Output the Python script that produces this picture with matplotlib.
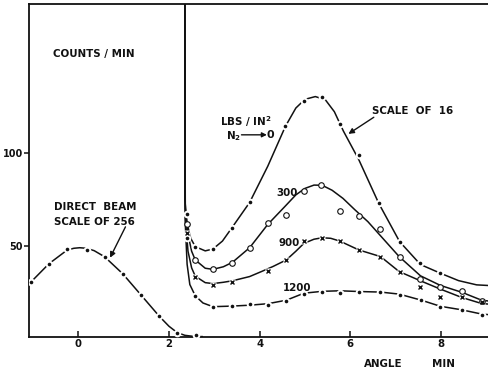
import numpy as np
import matplotlib
matplotlib.use('Agg')
import matplotlib.pyplot as plt

plt.rcParams['font.family'] = ['DejaVu Sans']
plt.rcParams['mathtext.fontset'] = 'dejavusans'
plt.rcParams['font.weight'] = 'bold'
plt.rcParams['mathtext.default'] = 'bf'

# Direct beam (scale of 256): measured points and the drawn curve.
beam_x = [-1.05, -0.65, -0.25, 0.18, 0.58, 0.98, 1.38, 1.79, 2.18, 2.59]
beam_y = [30.1, 40.2, 48.3, 47.4, 43.8, 34.6, 23.4, 11.7, 2.7, 1.5]
beam_line_x = [-1.10, -0.65, -0.25, -0.10, 0.03, 0.18, 0.35, 0.58, 0.98, 1.38,
               1.79, 2.00, 2.18, 2.35, 2.55, 2.75]
beam_line_y = [29.0, 40.2, 47.6, 48.6, 48.9, 48.6, 47.3, 44.0, 34.8, 23.4,
               11.7, 6.4, 3.0, 1.5, 0.9, 0.8]

# N2 pressure 0 lbs/in^2 (scale of 16)
p0_x = [2.39, 2.58, 2.97, 3.38, 3.78, 4.57, 4.97, 5.38, 5.77, 6.19, 6.63, 7.09, 7.55, 7.99]
p0_y = [67.0, 49.1, 48.2, 59.4, 73.4, 114.6, 128.2, 130.3, 116.0, 98.9, 72.9, 52.2, 40.8, 35.4]
p0_line_x = [2.35, 2.35, 2.40, 2.48, 2.58, 2.80, 2.97, 3.18, 3.38, 3.78, 4.18, 4.57,
             4.80, 5.00, 5.23, 5.45, 5.65, 5.85, 6.19, 6.63, 7.09, 7.55, 7.99,
             8.39, 8.79, 9.25]
p0_line_y = [182, 75, 62, 54, 49.5, 47.2, 48.2, 52.5, 59.4, 73.4, 93.0, 114.6,
             124.5, 129.2, 130.7, 129.0, 122.5, 112.0, 96.5, 72.9, 52.2, 39.8, 35.1,
             31.1, 28.8, 28.2]

# 300 lbs/in^2
p300_x = [2.40, 2.58, 2.97, 3.40, 3.78, 4.18, 4.59, 4.97, 5.36, 5.77, 6.19, 6.65,
          7.09, 7.55, 7.99, 8.46, 8.90]
p300_y = [61.5, 42.3, 37.4, 40.8, 48.9, 62.1, 66.6, 79.7, 82.7, 68.9, 66.0, 58.8,
          43.7, 31.9, 27.9, 25.6, 19.8]
p300_line_x = [2.35, 2.36, 2.42, 2.50, 2.58, 2.80, 2.97, 3.20, 3.40, 3.78, 4.18,
               4.55, 4.80, 5.00, 5.20, 5.38, 5.60, 5.84, 6.10, 6.39, 6.70, 7.08,
               7.55, 7.99, 8.46, 8.90, 9.25]
p300_line_y = [182, 70, 56, 47, 42.3, 37.8, 37.2, 38.6, 41.0, 48.9, 61.5,
               71.0, 77.5, 81.0, 82.8, 82.7, 80.0, 75.6, 69.5, 63.0, 54.5, 44.1,
               33.7, 28.5, 24.8, 20.5, 19.5]

# 900 lbs/in^2
p900_x = [2.40, 2.58, 2.97, 3.40, 4.19, 4.59, 4.98, 5.37, 5.77, 6.19, 6.66, 7.09,
          7.55, 7.99, 8.46, 8.90]
p900_y = [57.0, 33.3, 28.8, 30.6, 36.5, 42.3, 52.5, 54.2, 52.5, 47.7, 44.0, 36.0,
          27.9, 22.5, 22.5, 19.3]
p900_line_x = [2.35, 2.36, 2.42, 2.50, 2.58, 2.80, 2.97, 3.20, 3.40, 3.78, 4.04,
               4.30, 4.59, 4.80, 4.98, 5.20, 5.38, 5.57, 5.77, 6.19, 6.67, 7.08,
               7.55, 7.99, 8.46, 8.90, 9.25]
p900_line_y = [182, 65, 47, 38, 33.5, 30.0, 29.5, 30.2, 31.0, 33.3, 36.0,
               38.8, 42.3, 47.0, 51.3, 53.5, 54.3, 54.0, 52.5, 47.7, 44.1, 36.0,
               31.0, 26.5, 22.0, 18.7, 18.0]

# 1200 lbs/in^2
p1200_x = [2.40, 2.58, 2.97, 3.38, 3.78, 4.18, 4.59, 4.98, 5.38, 5.77, 6.19, 6.65,
           7.09, 7.57, 7.99, 8.46, 8.90]
p1200_y = [54.0, 22.9, 16.6, 17.5, 18.6, 17.9, 19.8, 23.8, 25.2, 24.6, 25.2, 25.2,
           23.1, 20.7, 16.9, 15.3, 12.6]
p1200_line_x = [2.35, 2.36, 2.40, 2.46, 2.58, 2.75, 2.97, 3.38, 3.78, 4.18, 4.59,
                4.98, 5.38, 5.77, 6.19, 6.67, 7.08, 7.57, 7.99, 8.46, 8.90, 9.25]
p1200_line_y = [182, 62, 40, 29, 22.9, 19.0, 17.0, 17.3, 17.8, 18.6, 20.5,
                24.3, 25.3, 25.6, 25.2, 24.9, 23.8, 20.5, 17.2, 15.3, 13.0, 12.3]

x_ticks = [0, 2, 4, 6, 8]
y_ticks = [50, 100]

fig = plt.figure(figsize=(4.88, 3.73), dpi=100)
# the original is cropped on the right, so the axes run past the figure edge
ax = fig.add_axes([28.5 / 488, 36.3 / 373, 469 / 488, 332.7 / 373])
ax.set_xlim(-1.10, 9.25)
ax.set_ylim(0.75, 180.8)

lw = 1.1
ink = '#111111'


def dotted_curve(lx, ly, px, py):
    # solid line broken around small filled dots
    ax.plot(lx, ly, color=ink, lw=lw, zorder=2, solid_capstyle='butt')
    ax.plot(px, py, 'o', ms=5.5, mfc='white', mec='none', zorder=3)
    ax.plot(px, py, 'o', ms=2.6, mfc=ink, mec='none', zorder=4)


dotted_curve(beam_line_x, beam_line_y, beam_x, beam_y)
dotted_curve(p0_line_x, p0_line_y, p0_x, p0_y)
dotted_curve(p1200_line_x, p1200_line_y, p1200_x, p1200_y)

# 300: open circles
ax.plot(p300_line_x, p300_line_y, color=ink, lw=lw, zorder=2)
ax.plot(p300_x, p300_y, 'o', ms=4.0, mfc='white', mec=ink, mew=0.8, zorder=4)

# 900: small crosses with gaps
ax.plot(p900_line_x, p900_line_y, color=ink, lw=lw, zorder=2)
ax.plot(p900_x, p900_y, 's', ms=4.5, mfc='white', mec='none', zorder=3)
ax.plot(p900_x, p900_y, 'x', ms=2.6, mec=ink, mew=1.0, zorder=4)

# axes styling
ax.spines['right'].set_visible(False)
for side in ['left', 'bottom', 'top']:
    ax.spines[side].set_linewidth(1.3)
    ax.spines[side].set_color(ink)

ax.set_xticks(x_ticks)
ax.set_xticklabels([str(t) for t in x_ticks])
ax.set_yticks(y_ticks)
ax.set_yticklabels([str(t) for t in y_ticks])
ax.tick_params(axis='x', direction='in', length=4, width=1.1, pad=2,
               labelsize=7.3, colors=ink)
ax.tick_params(axis='y', direction='out', length=3.5, width=1.1, pad=0.5,
               labelsize=7.0, colors=ink)

fs = 7.4
ax.text(-0.57, 153.5, 'COUNTS / MIN', fontsize=fs, color=ink, va='center')
ax.text(3.12, 117, 'LBS / IN$^2$', fontsize=fs, color=ink, va='center')
ax.annotate('', xy=(4.16, 110), xytext=(3.60, 110),
            arrowprops=dict(arrowstyle='-|>', color=ink, lw=1.0,
                            mutation_scale=7, shrinkA=0, shrinkB=0))
ax.text(3.25, 109.5, 'N$_2$', fontsize=fs, color=ink, va='center')
ax.text(4.16, 110, '0', fontsize=fs + 0.5, color=ink, va='center')
ax.text(6.49, 122.8, 'SCALE  OF  16', fontsize=fs, color=ink, va='center')
ax.annotate('', xy=(5.96, 110.5), xytext=(6.52, 119.5),
            arrowprops=dict(arrowstyle='-|>', color=ink, lw=1.0,
                            mutation_scale=8, shrinkA=0, shrinkB=0))
ax.text(4.37, 78.5, '300', fontsize=fs, color=ink, va='center')
ax.text(4.41, 51.5, '900', fontsize=fs, color=ink, va='center')
ax.text(4.52, 27, '1200', fontsize=fs, color=ink, va='center')
ax.text(-0.53, 71, 'DIRECT  BEAM', fontsize=fs, color=ink, va='center')
ax.text(-0.53, 63, 'SCALE OF 256', fontsize=fs, color=ink, va='center')
ax.annotate('', xy=(0.70, 43.5), xytext=(1.04, 60.2),
            arrowprops=dict(arrowstyle='-|>', color=ink, lw=1.0,
                            mutation_scale=8, shrinkA=0, shrinkB=0))
ax.text(6.30, -13.8, 'ANGLE', fontsize=fs, color=ink, va='center', clip_on=False)
ax.text(7.80, -13.8, 'MIN', fontsize=fs, color=ink, va='center', clip_on=False)

fig.savefig('out.png', dpi=100, facecolor='white')
